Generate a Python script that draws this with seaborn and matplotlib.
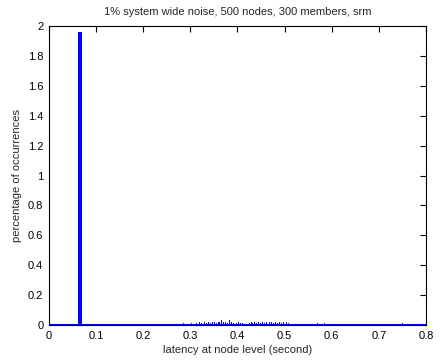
import matplotlib
matplotlib.use("Agg")
import matplotlib.pyplot as plt
import seaborn as sns
import pandas as pd
import numpy as np

title = "1% system wide noise, 500 nodes, 300 members, srm"
xlabel = "latency at node level (second)"
ylabel = "percentage of occurrences"

peak_latency = [0.066]
peak_pct = [1.96]

small_latency = [0.285, 0.302, 0.312, 0.318, 0.322, 0.326, 0.330, 0.334, 0.338,
                 0.342, 0.346, 0.350, 0.354, 0.358, 0.362, 0.366, 0.370, 0.374,
                 0.378, 0.382, 0.386, 0.390, 0.394, 0.398, 0.402, 0.406, 0.410,
                 0.424, 0.428, 0.432, 0.436, 0.440, 0.444, 0.448, 0.452, 0.456,
                 0.460, 0.464, 0.468, 0.472, 0.476, 0.480, 0.484, 0.488, 0.492,
                 0.496, 0.500, 0.504, 0.508, 0.570, 0.585, 0.675, 0.750]
small_pct = [0.013, 0.013, 0.013, 0.020, 0.013, 0.013, 0.020, 0.013, 0.020,
             0.013, 0.020, 0.020, 0.013, 0.020, 0.020, 0.035, 0.020, 0.020,
             0.013, 0.035, 0.020, 0.013, 0.020, 0.013, 0.020, 0.013, 0.013,
             0.013, 0.020, 0.013, 0.020, 0.013, 0.020, 0.013, 0.020, 0.013,
             0.020, 0.013, 0.020, 0.020, 0.013, 0.020, 0.013, 0.020, 0.013,
             0.020, 0.013, 0.020, 0.013, 0.013, 0.013, 0.013, 0.013]

xticks = [0, 0.1, 0.2, 0.3, 0.4, 0.5, 0.6, 0.7, 0.8]
yticks = [0, 0.2, 0.4, 0.6, 0.8, 1, 1.2, 1.4, 1.6, 1.8, 2]

sns.set_style("white")
plt.rcParams['font.family'] = ['Liberation Sans', 'DejaVu Sans']

fig = plt.figure(figsize=(4.40, 3.61), dpi=100)
ax = fig.add_axes([0.111, 0.0997, 0.857, 0.8283])

peak_df = pd.DataFrame({"latency": peak_latency, "pct": peak_pct})
small_df = pd.DataFrame({"latency": small_latency, "pct": small_pct})

sns.histplot(data=peak_df, x="latency", weights="pct", bins=[0.062, 0.070],
             color="#0000ff", alpha=1, linewidth=0, ax=ax)
sns.histplot(data=small_df, x="latency", weights="pct", binwidth=0.002,
             binrange=(0.284, 0.752), color="#0000ff", alpha=1, linewidth=0, ax=ax)
ax.axhline(0, color="#0000ff", linewidth=1.5, zorder=5)

ax.set_xlim(0, 0.8)
ax.set_ylim(0, 2)
ax.set_xticks(xticks)
ax.set_xticklabels(["0", "0.1", "0.2", "0.3", "0.4", "0.5", "0.6", "0.7", "0.8"])
ax.set_yticks(yticks)
ax.set_yticklabels(["0", "0.2", "0.4", "0.6", "0.8", "1", "1.2", "1.4", "1.6", "1.8", "2"])
ax.tick_params(direction="in", length=4, width=0.8, top=True, right=True,
               labelsize=8, colors="black", pad=4)
for s in ax.spines.values():
    s.set_color("black")
    s.set_linewidth(0.8)
    s.set_visible(True)
ax.set_xlabel(xlabel, fontsize=8, labelpad=3)
ax.set_ylabel(ylabel, fontsize=8, labelpad=4)
ax.set_title(title, fontsize=8, pad=8)

fig.savefig("out.png", dpi=100)
